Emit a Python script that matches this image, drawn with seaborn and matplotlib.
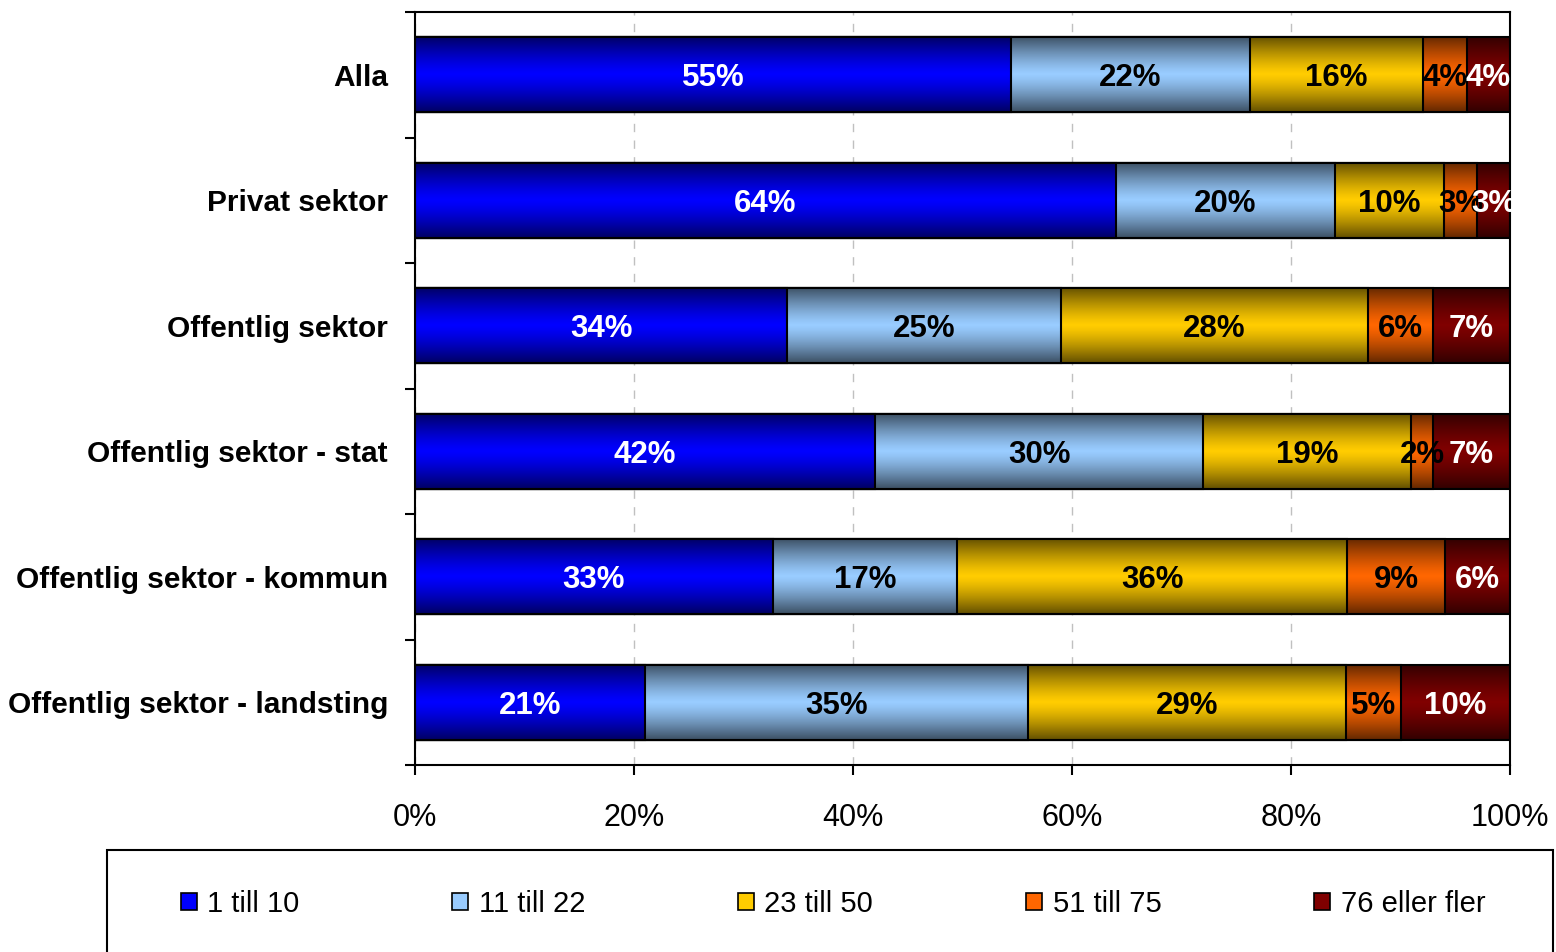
import numpy as np
import pandas as pd
import seaborn as sns
import matplotlib.pyplot as plt
from matplotlib.patches import Patch, Rectangle
from matplotlib.ticker import FixedLocator, PercentFormatter

# data (shown percentages, rows sum to ~100)
categories = ['Alla', 'Privat sektor', 'Offentlig sektor', 'Offentlig sektor - stat',
              'Offentlig sektor - kommun', 'Offentlig sektor - landsting']
groups = ['1 till 10', '11 till 22', '23 till 50', '51 till 75', '76 eller fler']
g1 = [55, 64, 34, 42, 33, 21]
g2 = [22, 20, 25, 30, 17, 35]
g3 = [16, 10, 28, 19, 36, 29]
g4 = [4, 3, 6, 2, 9, 5]
g5 = [4, 3, 7, 7, 6, 10]

colors = ['#0000FF', '#99CCFF', '#FFCC00', '#FF6600', '#800000']
label_colors = ['white', 'black', 'black', 'black', 'white']

sns.set_style('ticks')
plt.rcParams['font.family'] = ['Liberation Sans', 'DejaVu Sans']
plt.rcParams.update({'text.color': 'black', 'axes.labelcolor': 'black',
                     'xtick.color': 'black', 'ytick.color': 'black'})

raw = pd.DataFrame([g1, g2, g3, g4, g5], index=groups, columns=categories).T
# 100% stacked: each row scaled to sum 100
share = raw.div(raw.sum(axis=1), axis=0) * 100
cum = share.cumsum(axis=1)

fig = plt.figure(figsize=(15.56, 9.52), dpi=100)
ax = fig.add_axes([415 / 1556, 1 - 765 / 952, (1510 - 415) / 1556, (765 - 12) / 952])

# stack by overlaying cumulative bars, longest first
for i in range(len(groups) - 1, -1, -1):
    sns.barplot(x=cum[groups[i]].values, y=categories, orient='h', color=colors[i],
                width=0.6, edgecolor='black', linewidth=1.5, saturation=1, ax=ax)

# shading gradient over each bar (dark top/bottom, bright middle)
t = np.linspace(0, 1, 200)
grad = np.zeros((200, 1, 4))
grad[:, 0, 3] = 0.62 * np.abs(2 * t - 1) ** 1.3
for j in range(len(categories)):
    ax.imshow(grad, extent=(0, 100, j + 0.3, j - 0.3), aspect='auto',
              zorder=2, interpolation='bilinear')

# value labels
for j, cat in enumerate(categories):
    start = 0
    for i, g in enumerate(groups):
        w = share.loc[cat, g]
        ax.text(start + w / 2, j, f'{raw.loc[cat, g]}%', ha='center', va='center_baseline',
                fontsize=22.5, fontweight='bold', color=label_colors[i], zorder=4)
        start += w

ax.set_xlim(0, 100)
ax.set_ylim(5.5, -0.5)
ax.set_xlabel('')
ax.set_ylabel('')

ax.set_xticks(np.arange(0, 101, 20))
ax.xaxis.set_major_formatter(PercentFormatter(decimals=0))
ax.tick_params(axis='x', length=7, width=1.5, pad=20, labelsize=22, direction='out')

ax.set_yticks(range(len(categories)))
ax.set_yticklabels(categories, fontweight='bold', fontsize=21.5)
ax.tick_params(axis='y', which='major', length=0, pad=19.5)
ax.yaxis.set_minor_locator(FixedLocator(np.arange(-0.5, len(categories), 1)))
ax.tick_params(axis='y', which='minor', length=7, width=1.5, direction='out')

ax.set_axisbelow(True)
ax.xaxis.grid(True, color='#C0C0C0', linestyle=(0, (6, 6)), linewidth=1)
for s in ax.spines.values():
    s.set_visible(True)
    s.set_linewidth(1.5)
    s.set_color('black')

# legend in a box that runs off the bottom edge
handles = [Patch(facecolor=c, edgecolor='black', linewidth=1.2) for c in colors]
fig.legend(handles, groups, loc='center', bbox_to_anchor=(833 / 1556, 1 - 904 / 952),
           ncol=5, frameon=False, fontsize=21, handlelength=0.55, handleheight=0.55,
           handletextpad=0.35, columnspacing=5.25, borderaxespad=0)
fig.add_artist(Rectangle((107 / 1556, -0.02), (1553 - 107) / 1556, (952 - 850) / 952 + 0.02,
                         transform=fig.transFigure, fill=False, edgecolor='black',
                         linewidth=1.5))

fig.savefig('out.png', dpi=100)
